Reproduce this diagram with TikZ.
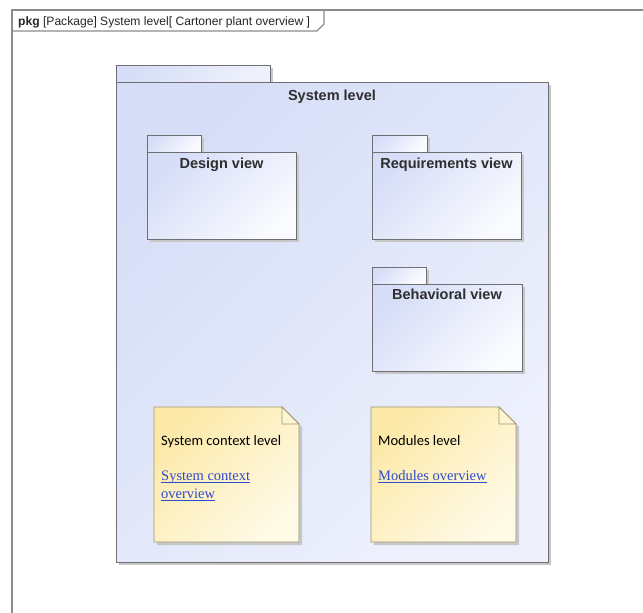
\documentclass[tikz,border=0pt]{standalone}
\usepackage{fontspec}
\setmainfont{Liberation Sans}
\newfontfamily\notefont{Carlito}
\newfontfamily\linkfont{Liberation Serif}

\definecolor{pkgline}{RGB}{110,110,116}
\definecolor{pkgA}{RGB}{214,222,247}
\definecolor{pkgB}{RGB}{238,241,252}
\definecolor{subA}{RGB}{214,221,247}
\definecolor{subB}{RGB}{250,251,255}
\definecolor{noteA}{RGB}{252,233,168}
\definecolor{noteB}{RGB}{255,250,230}
\definecolor{noteline}{RGB}{160,150,115}
\definecolor{linkblue}{RGB}{45,75,205}
\definecolor{frameline}{RGB}{140,140,140}

\tikzset{
  pkgborder/.style={draw=pkgline, line width=0.9pt},
  noteborder/.style={draw=noteline, line width=0.9pt},
  shadowfill/.style={fill=black!22},
  pkgtitle/.style={font=\bfseries\fontsize{14.5}{17}\selectfont, text=black!82, anchor=base, inner sep=0pt},
  notetext/.style={font=\notefont\fontsize{14.5}{17}\selectfont, anchor=base west, inner sep=0pt},
  linktext/.style={font=\linkfont\fontsize{14.5}{17}\selectfont, text=linkblue, anchor=base west, inner sep=0pt},
  linkrule/.style={draw=linkblue, line width=0.7pt},
}

% package: x1, tab top, tab right, body top, x2, y2, colour A, colour B
\newcommand\umlpkg[8]{%
  \fill[shadowfill] (#1+3,#4+3) rectangle (#5+3,#6+3);
  \fill[shadowfill] (#1+3,#2+3) rectangle (#3+3,#4);
  \path[pkgborder, top color=#7, bottom color=#8, shading angle=45] (#1,#2) rectangle (#3,#4);
  \path[pkgborder, top color=#7, bottom color=#8, shading angle=45] (#1,#4) rectangle (#5,#6);
}

% note with folded corner: x1, y1, x2, y2
\newcommand\umlnote[4]{%
  \fill[shadowfill] (#1+3,#2+3) -- (#3-14,#2+3) -- (#3+3,#2+20) -- (#3+3,#4+3) -- (#1+3,#4+3) -- cycle;
  \path[noteborder, top color=noteA, bottom color=noteB, shading angle=45]
    (#1,#2) -- (#3-17,#2) -- (#3,#2+17) -- (#3,#4) -- (#1,#4) -- cycle;
  \path[noteborder, fill=noteB!70!noteA] (#3-17,#2) -- (#3-17,#2+17) -- (#3,#2+17) -- cycle;
}

\begin{document}
\begin{tikzpicture}[x=1pt, y=-1pt]
\useasboundingbox[fill=white] (0,0) rectangle (643,613);

% diagram frame and its header tab
\draw[frameline, line width=1.2pt] (643,10) -- (12,10) -- (12,613);
\draw[frameline, line width=1.2pt] (12,31) -- (317,31) -- (324,24) -- (324,10);
\node[anchor=base west, inner sep=0pt, font=\fontsize{12.1}{14}\selectfont, text=black!85] (hdr) at (18,25)
  {\textbf{pkg} [Package] System level[ Cartoner plant overview ]};

% outer package
\umlpkg{116}{65}{270}{82}{548}{562}{pkgA}{pkgB}
\node[pkgtitle] (sys) at (332,100) {System level};

% nested packages
\umlpkg{147}{135}{201}{152}{296}{239}{subA}{subB}
\node[pkgtitle] (design) at (221.5,168) {Design view};

\umlpkg{372}{135}{427}{152}{521}{239}{subA}{subB}
\node[pkgtitle] (req) at (446.5,168) {Requirements view};

\umlpkg{372}{267}{426}{284}{522}{371}{subA}{subB}
\node[pkgtitle] (behav) at (447,299) {Behavioral view};

% notes with hyperlinks
\umlnote{154}{407}{299}{542}
\node[notetext] (ctxlvl) at (161,445) {System context level};
\node[linktext] (ctxlnk1) at (161,480) {System context};
\node[linktext] (ctxlnk2) at (161,498) {overview};
\draw[linkrule] ([yshift=-2pt]ctxlnk1.base west) -- ([yshift=-2pt]ctxlnk1.base east);
\draw[linkrule] ([yshift=-2pt]ctxlnk2.base west) -- ([yshift=-2pt]ctxlnk2.base east);

\umlnote{371}{407}{516}{542}
\node[notetext] (modlvl) at (378,445) {Modules level};
\node[linktext] (modlnk) at (378,480) {Modules overview};
\draw[linkrule] ([yshift=-2pt]modlnk.base west) -- ([yshift=-2pt]modlnk.base east);
\end{tikzpicture}
\end{document}
